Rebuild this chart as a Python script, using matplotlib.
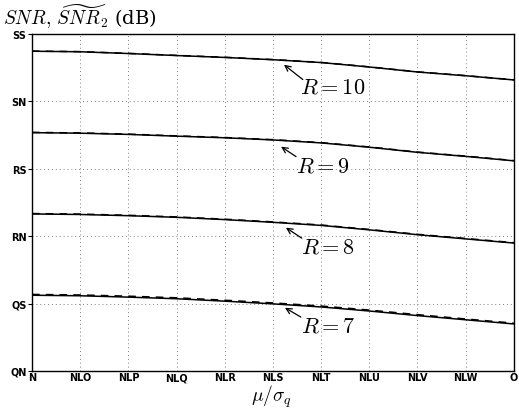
import numpy as np
import matplotlib.pyplot as plt

plt.rcParams['mathtext.fontset'] = 'cm'

# mu/sigma_q grid
x = [0.0, 0.1, 0.2, 0.3, 0.4, 0.5, 0.6, 0.7, 0.8, 0.9, 1.0]

# SNR (solid) and approximated SNR_2 (dashed), dB
snr_10 = [53.72, 53.68, 53.55, 53.40, 53.26, 53.09, 52.88, 52.55, 52.18, 51.90, 51.59]
snr_9 = [47.68, 47.64, 47.55, 47.42, 47.30, 47.14, 46.92, 46.60, 46.22, 45.92, 45.59]
snr_8 = [41.65, 41.61, 41.52, 41.40, 41.23, 41.03, 40.80, 40.47, 40.11, 39.80, 39.49]
snr_7 = [35.62, 35.58, 35.48, 35.36, 35.18, 34.98, 34.75, 34.45, 34.11, 33.80, 33.49]

snr2_10 = [53.73, 53.69, 53.56, 53.41, 53.27, 53.10, 52.89, 52.56, 52.19, 51.91, 51.60]
snr2_9 = [47.70, 47.66, 47.57, 47.44, 47.32, 47.16, 46.94, 46.62, 46.24, 45.94, 45.61]
snr2_8 = [41.68, 41.64, 41.55, 41.43, 41.26, 41.06, 40.83, 40.50, 40.14, 39.83, 39.52]
snr2_7 = [35.68, 35.64, 35.55, 35.43, 35.25, 35.05, 34.82, 34.52, 34.18, 33.86, 33.55]

labels = ['$R=10$', '$R=9$', '$R=8$', '$R=7$']
arrow_tip = [(0.523, 52.72), (0.517, 46.64), (0.527, 40.63), (0.525, 34.69)]
arrow_tail = [(0.562, 51.62), (0.548, 45.90), (0.560, 39.85), (0.558, 34.00)]
label_pos = [(0.625, 51.07), (0.605, 45.28), (0.615, 39.27), (0.615, 33.34)]

xtick_vals = [0, 0.1, 0.2, 0.3, 0.4, 0.5, 0.6, 0.7, 0.8, 0.9, 1]
xtick_text = ['N', 'NLO', 'NLP', 'NLQ', 'NLR', 'NLS', 'NLT', 'NLU', 'NLV', 'NLW', 'O']
ytick_vals = [30, 35, 40, 45, 50, 55]
ytick_text = ['QN', 'QS', 'RN', 'RS', 'SN', 'SS']

fig = plt.figure(figsize=(5.19, 4.10), dpi=100)
ax = fig.add_axes([0.0617, 0.0927, 0.9283, 0.822])

for s in [snr_10, snr_9, snr_8, snr_7]:
    ax.plot(x, s, color='black', linewidth=1.1)
for s in [snr2_10, snr2_9, snr2_8, snr2_7]:
    ax.plot(x, s, color='black', linewidth=1.1, linestyle=(0, (5, 4)))

for lab, tip, tail, pos in zip(labels, arrow_tip, arrow_tail, label_pos):
    ax.annotate('', xy=tip, xytext=tail,
                arrowprops=dict(arrowstyle='->', color='black', lw=0.9,
                                shrinkA=0, shrinkB=0))
    ax.text(pos[0], pos[1], lab, fontsize=16, ha='center', va='center')

ax.set_xlim(0, 1)
ax.set_ylim(30, 55)
ax.set_xticks(xtick_vals)
ax.set_xticklabels(xtick_text, fontsize=7, fontweight='bold')
ax.set_yticks(ytick_vals)
ax.set_yticklabels(ytick_text, fontsize=7, fontweight='bold')
ax.tick_params(direction='out', length=3, width=0.8, pad=1)
ax.tick_params(axis='x', length=0, pad=1)
ax.grid(True, linestyle=(0, (1, 3)), color='gray', linewidth=0.7)
for sp in ax.spines.values():
    sp.set_linewidth(1.0)

fig.text(0.522, 0.0, r'$\mu/\sigma_q$', fontsize=14, ha='center', va='bottom')
fig.text(0.005, 0.96, r'$SNR,\,\widetilde{SNR}_2$ (dB)', fontsize=14, va='center',
         family='serif')

fig.savefig('out.png', dpi=100)
